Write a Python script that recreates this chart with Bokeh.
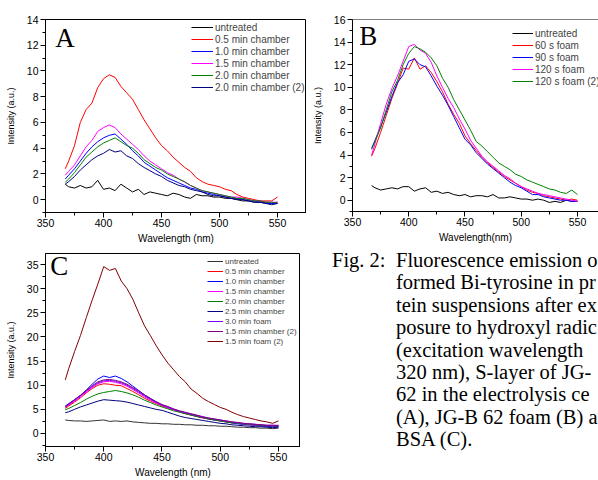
from bokeh.plotting import figure
from bokeh.models import Range1d, FixedTicker, Legend, LegendItem, Label, Span, Div
from bokeh.layouts import row, column
from bokeh.embed import file_html
from bokeh.resources import INLINE

# ---------------- data ----------------
WAVELENGTH = [367, 370, 375, 380, 385, 390, 395, 400, 405, 410, 415, 420, 425, 430,
              435, 440, 445, 450, 455, 460, 465, 470, 475, 480, 485, 490, 495, 500,
              505, 510, 515, 520, 525, 530, 535, 540, 545, 550]

X_TICKS = [350, 400, 450, 500, 550]
X_MINOR = [375, 425, 475, 525, 575]

# Panel A: S-layer JG-B 62, electrolysis chamber
A_LABELS = ["untreated", "0.5 min chamber", "1.0 min chamber", "1.5 min chamber",
            "2.0 min chamber", "2.0 min chamber (2)"]
A_COLORS = ["#000000", "#ff0000", "#0000ff", "#ff00ff", "#008000", "#000080"]
A_untreated = [1.2, 1.0, 0.9, 1.1, 0.9, 1.0, 1.5, 0.8, 0.9, 0.7, 1.2, 0.9, 0.6, 0.8, 0.4, 0.6,
               0.5, 0.4, 0.3, 0.5, 0.4, 0.2, 0.1, 0.4, 0.3, 0.3, 0.2, 0.2, 0.1, 0.1, 0.0, -0.1,
               -0.1, -0.2, -0.2, -0.2, -0.3, -0.2]
A_05 = [2.4, 3.0, 4.2, 6.0, 7.0, 7.5, 8.7, 9.4, 9.7, 9.5, 8.8, 8.3, 7.8, 7.0, 6.2, 5.5,
        4.8, 4.2, 3.8, 3.3, 2.9, 2.5, 2.2, 1.7, 1.4, 1.2, 1.1, 1.0, 0.8, 0.7, 0.4, 0.2,
        0.1, 0.0, -0.1, -0.1, -0.1, 0.2]
A_10 = [1.6, 1.9, 2.4, 3.0, 3.6, 4.1, 4.5, 4.8, 5.0, 5.1, 4.7, 4.3, 3.8, 3.4, 2.9, 2.6,
        2.3, 2.0, 1.7, 1.5, 1.3, 1.1, 0.9, 0.8, 0.6, 0.5, 0.4, 0.3, 0.2, 0.1, 0.1, 0.0,
        -0.1, -0.1, -0.2, -0.3, -0.3, -0.3]
A_15 = [1.9, 2.2, 2.7, 3.4, 4.1, 4.6, 5.3, 5.6, 5.8, 5.6, 5.1, 4.7, 4.3, 3.9, 3.4, 3.0,
        2.7, 2.4, 2.1, 1.9, 1.6, 1.35, 1.1, 0.9, 0.7, 0.6, 0.5, 0.4, 0.3, 0.2, 0.2, 0.1,
        0.0, -0.1, -0.1, -0.2, -0.2, -0.2]
A_20 = [1.35, 1.6, 2.1, 2.7, 3.3, 3.7, 4.1, 4.4, 4.6, 4.8, 4.5, 4.2, 4.0, 3.6, 3.1, 2.8,
        2.5, 2.3, 2.0, 1.8, 1.6, 1.4, 1.1, 0.9, 0.7, 0.6, 0.5, 0.4, 0.3, 0.2, 0.1, 0.1,
        0.0, -0.1, -0.1, -0.2, -0.2, -0.3]
A_20b = [1.2, 1.4, 1.8, 2.3, 2.7, 3.1, 3.4, 3.6, 3.9, 3.7, 3.8, 3.4, 3.2, 2.8, 2.5, 2.25,
         2.0, 1.8, 1.5, 1.3, 1.1, 1.0, 0.8, 0.7, 0.6, 0.4, 0.3, 0.3, 0.2, 0.1, 0.0, 0.0,
         -0.1, -0.2, -0.2, -0.3, -0.4, -0.3]
A_Y_TICKS = [0, 2, 4, 6, 8, 10, 12, 14]
A_Y_MINOR = [-1, 1, 3, 5, 7, 9, 11, 13]

# Panel B: JG-B 62 foam
B_LABELS = ["untreated", "60 s foam", "90 s foam", "120 s foam", "120 s foam (2)"]
B_COLORS = ["#000000", "#ff0000", "#0000ff", "#ff00ff", "#008000"]
B_untreated = [1.3, 1.1, 0.9, 1.0, 1.1, 1.0, 1.2, 1.2, 0.8, 1.0, 1.1, 0.7, 0.8, 0.6, 0.7, 0.5,
               0.4, 0.5, 0.3, 0.4, 0.4, 0.3, 0.5, 0.2, 0.2, 0.3, 0.2, 0.1, 0.1, 0.0, 0.1, 0.0,
               -0.2, -0.1, -0.2, 0.0, -0.1, -0.1]
B_60 = [3.9, 4.6, 6.0, 7.5, 9.0, 10.3, 11.7, 11.6, 12.6, 11.6, 11.9, 11.3, 10.5, 9.6, 8.5, 7.6,
        6.8, 5.7, 5.0, 4.4, 3.8, 3.3, 2.9, 2.5, 2.1, 1.8, 1.5, 1.2, 0.9, 0.7, 0.6, 0.4,
        0.3, 0.2, 0.1, 0.0, 0.1, 0.0]
B_90 = [4.6, 5.3, 6.5, 7.8, 9.2, 10.4, 11.1, 12.3, 12.5, 12.0, 11.8, 11.0, 10.1, 9.3, 8.4, 7.4,
        6.4, 5.4, 4.9, 4.2, 3.7, 3.2, 2.8, 2.4, 2.0, 1.6, 1.3, 1.1, 0.8, 0.5, 0.5, 0.3,
        0.2, 0.1, 0.0, 0.0, -0.1, -0.1]
B_120 = [4.0, 5.0, 6.8, 8.5, 9.9, 11.0, 12.3, 13.6, 13.8, 13.3, 13.0, 12.2, 11.0, 10.0, 9.0, 8.2,
         7.2, 6.3, 5.3, 4.6, 3.9, 3.4, 3.0, 2.6, 2.2, 1.9, 1.5, 1.2, 1.0, 0.8, 0.6, 0.5,
         0.4, 0.3, 0.2, 0.1, 0.0, -0.1]
B_120b = [4.5, 5.2, 6.4, 8.0, 9.6, 10.6, 12.0, 13.0, 13.6, 13.4, 13.1, 12.6, 11.9, 10.8, 10.0, 8.9,
          8.0, 7.1, 6.2, 5.2, 4.8, 4.3, 3.8, 3.3, 3.0, 2.7, 2.3, 2.1, 1.8, 1.6, 1.4, 1.2,
          1.0, 0.9, 0.7, 0.6, 0.9, 0.5]
B_Y_TICKS = [0, 2, 4, 6, 8, 10, 12, 14, 16]
B_Y_MINOR = [-1, 1, 3, 5, 7, 9, 11, 13, 15]

# Panel C: BSA
C_LABELS = ["untreated", "0.5 min chamber", "1.0 min chamber", "1.5 min chamber",
            "2.0 min chamber", "2.5 min chamber", "3.0 min foam", "1.5 min chamber (2)",
            "1.5 min foam (2)"]
C_COLORS = ["#333333", "#ff0000", "#0000ff", "#ff00ff", "#008000", "#000080",
            "#8000ff", "#800080", "#800000"]
C_untreated = [2.8, 2.7, 2.6, 2.6, 2.5, 2.6, 2.7, 2.8, 2.5, 2.6, 2.5, 2.6, 2.4, 2.3, 2.2, 2.1,
               2.1, 2.0, 2.0, 1.9, 1.9, 1.8, 1.8, 1.7, 1.7, 1.6, 1.6, 1.5, 1.5, 1.4, 1.3, 1.3,
               1.2, 1.2, 1.1, 1.1, 1.0, 1.1]
C_05 = [5.2, 5.7, 6.5, 7.4, 8.4, 9.3, 10.0, 10.3, 10.2, 10.0, 9.9, 9.3, 8.7, 8.0, 7.3, 6.7,
        6.2, 5.7, 5.3, 4.9, 4.5, 4.1, 3.8, 3.5, 3.2, 3.0, 2.8, 2.6, 2.4, 2.2, 2.1, 1.9,
        1.8, 1.7, 1.6, 1.5, 1.5, 1.5]
C_10 = [5.7, 6.2, 7.0, 7.9, 9.0, 10.2, 11.3, 11.9, 11.6, 11.9, 11.4, 10.7, 9.8, 8.9, 8.0, 7.2,
        6.5, 5.9, 5.4, 5.0, 4.6, 4.2, 3.9, 3.6, 3.3, 3.0, 2.8, 2.6, 2.4, 2.2, 2.0, 1.9,
        1.8, 1.7, 1.6, 1.5, 1.4, 1.4]
C_15 = [5.4, 5.9, 6.7, 7.6, 8.6, 9.5, 10.3, 10.7, 10.8, 10.6, 10.3, 9.8, 9.1, 8.4, 7.6, 6.9,
        6.3, 5.8, 5.3, 4.9, 4.5, 4.2, 3.9, 3.6, 3.3, 3.1, 2.9, 2.7, 2.5, 2.3, 2.2, 2.0,
        1.9, 1.8, 1.7, 1.6, 1.6, 1.6]
C_20 = [4.9, 5.2, 5.8, 6.4, 7.1, 7.7, 8.2, 8.5, 8.7, 8.9, 8.7, 8.4, 8.0, 7.5, 6.9, 6.4,
        5.9, 5.5, 5.1, 4.7, 4.4, 4.1, 3.8, 3.5, 3.3, 3.0, 2.8, 2.6, 2.4, 2.2, 2.1, 2.0,
        1.9, 1.8, 1.7, 1.6, 1.6, 1.6]
C_25 = [4.3, 4.5, 5.0, 5.5, 5.9, 6.3, 6.7, 7.0, 6.9, 6.8, 6.7, 6.5, 6.2, 5.9, 5.6, 5.3,
        5.0, 4.8, 4.4, 4.0, 3.6, 3.3, 3.1, 2.9, 2.7, 2.5, 2.3, 2.1, 2.0, 1.8, 1.7, 1.6,
        1.5, 1.4, 1.4, 1.3, 1.2, 1.3]
C_30f = [5.5, 6.0, 6.9, 7.8, 8.8, 9.7, 10.5, 10.9, 11.0, 10.8, 10.5, 10.0, 9.3, 8.6, 7.8, 7.1,
         6.5, 5.9, 5.5, 5.0, 4.6, 4.3, 4.0, 3.7, 3.4, 3.2, 3.0, 2.8, 2.6, 2.4, 2.2, 2.1,
         2.0, 1.9, 1.8, 1.7, 1.7, 1.6]
C_15b = [5.6, 6.1, 7.0, 7.9, 8.9, 9.9, 10.7, 11.1, 11.2, 11.0, 10.7, 10.2, 9.5, 8.8, 8.0, 7.3,
         6.6, 6.0, 5.6, 5.1, 4.7, 4.4, 4.1, 3.8, 3.5, 3.2, 3.0, 2.8, 2.6, 2.4, 2.3, 2.1,
         2.0, 1.9, 1.8, 1.7, 1.7, 1.7]
C_15fb = [11.1, 13.5, 17.0, 20.3, 24.0, 27.6, 31.0, 34.6, 33.8, 34.2, 31.6, 30.0, 27.8, 25.0,
          22.3, 20.3, 18.2, 16.3, 14.6, 13.2, 11.8, 10.7, 9.2, 8.3, 7.3, 6.6, 6.0, 5.4,
          5.0, 4.4, 3.9, 3.5, 3.2, 2.9, 2.6, 2.4, 2.1, 2.6]
C_Y_TICKS = [0, 5, 10, 15, 20, 25, 30, 35]
C_Y_MINOR = [-2.5, 2.5, 7.5, 12.5, 17.5, 22.5, 27.5, 32.5]

# Caption (the lines as far as they are visible before the page's right edge)
CAPTION_HEAD = "Fig. 2:"
CAPTION_LINES = ["Fluorescence emission o", "formed Bi-tyrosine in pr",
                 "tein suspensions after ex", "posure to hydroxyl radic",
                 "(excitation wavelength", "320 nm), S-layer of JG-",
                 "62 in the electrolysis ce", "(A), JG-B 62 foam (B) a", "BSA (C)."]

SANS = "Liberation Sans"
SERIF = "Liberation Serif"


def make_panel(width, height, xr, yr, borders, yticks, yminor, xlabel, outline=True):
    p = figure(width=width, height=height, x_range=Range1d(*xr), y_range=Range1d(*yr),
               toolbar_location=None, output_backend="svg",
               min_border_left=borders[0], min_border_right=borders[1],
               min_border_top=borders[2], min_border_bottom=borders[3])
    p.grid.visible = False
    p.outline_line_color = "black" if outline else None
    p.xaxis.ticker = FixedTicker(ticks=X_TICKS, minor_ticks=X_MINOR)
    p.yaxis.ticker = FixedTicker(ticks=yticks, minor_ticks=yminor)
    for ax in (p.xaxis[0], p.yaxis[0]):
        ax.major_tick_out = 5
        ax.major_tick_in = 0
        ax.minor_tick_out = 3
        ax.minor_tick_in = 0
        ax.axis_line_color = "black"
        ax.major_tick_line_color = "black"
        ax.minor_tick_line_color = "black"
        ax.major_label_text_font = SANS
        ax.major_label_text_font_size = "10.5px"
        ax.major_label_text_color = "black"
        ax.axis_label_text_font = SANS
        ax.axis_label_text_font_style = "normal"
        ax.axis_label_text_color = "black"
    p.xaxis.axis_label = xlabel
    p.xaxis.axis_label_text_font_size = "10px"
    p.xaxis.major_label_standoff = 1
    p.xaxis.axis_label_standoff = 3
    p.yaxis.axis_label = "Intensity (a.u.)"
    p.yaxis.axis_label_text_font_size = "9px"
    p.yaxis.major_label_standoff = 2
    p.yaxis.axis_label_standoff = 8
    p.background_fill_color = "white"
    p.border_fill_color = "white"
    return p


def add_series(p, series, labels, colors, loc, font_size, glyph_w, row_h):
    items = []
    for ys, lab, col in zip(series, labels, colors):
        r = p.line(WAVELENGTH, ys, line_color=col, line_width=1)
        items.append(LegendItem(label=lab, renderers=[r]))
    leg = Legend(items=items, location=loc, label_text_font=SANS,
                 label_text_font_size=font_size, glyph_width=glyph_w, glyph_height=row_h,
                 label_height=row_h, label_standoff=2, spacing=0, padding=0, margin=0,
                 border_line_color=None, background_fill_alpha=0)
    p.add_layout(leg)


def panel_letter(p, x, y, letter):
    p.add_layout(Label(x=x, y=y, text=letter, text_font=SERIF, text_font_size="27px",
                       text_baseline="middle", text_align="left", text_color="black"))


# Panel A
pA = make_panel(306, 248, (350, 575), (-1, 14), (45, 0, 19, 36), A_Y_TICKS, A_Y_MINOR,
                "Wavelength (nm)")
add_series(pA, [A_untreated, A_05, A_10, A_15, A_20, A_20b], A_LABELS, A_COLORS,
           (146, 119), "10px", 22, 12)
panel_letter(pA, 358.4, 12.6, "A")

# Panel B
pB = make_panel(292, 245, (350, 568.7), (-1, 16), (46, 0, 19, 34), B_Y_TICKS, B_Y_MINOR,
                "Wavelength(nm)", outline=False)
pB.add_layout(Span(location=16, dimension="width", line_color="black", line_width=1))
add_series(pB, [B_untreated, B_60, B_90, B_120, B_120b], B_LABELS, B_COLORS,
           (160, 124), "10px", 21, 12)
panel_letter(pB, 356.0, 14.5, "B")

# Panel C
pC = make_panel(300, 232, (350, 568.9), (-2.7, 37.3), (45, 0, 5, 33), C_Y_TICKS, C_Y_MINOR,
                "Wavelength (nm)")
add_series(pC, [C_untreated, C_05, C_10, C_15, C_20, C_25, C_30f, C_15b, C_15fb],
           C_LABELS, C_COLORS, (162, 100), "8px", 16, 10)
panel_letter(pC, 354.0, 34.7, "C")

# Caption as an HTML block (hanging indent after "Fig. 2:")
body = "<br>".join(CAPTION_LINES)
cap_html = (
    '<div style="position:relative;width:292px;height:235px;overflow:hidden;'
    "font-family:'Liberation Serif',serif;font-size:20.5px;line-height:22.4px;"
    'color:#000;white-space:nowrap;background:#fff;">'
    f'<div style="position:absolute;left:26px;top:4px;">{CAPTION_HEAD}</div>'
    f'<div style="position:absolute;left:90px;top:4px;">{body}</div>'
    "</div>"
)
cap = Div(text=cap_html, width=292, height=235, margin=0)

layout = row(column(pA, pC), column(pB, cap))
open("out.html", "w").write(file_html(layout, INLINE))
